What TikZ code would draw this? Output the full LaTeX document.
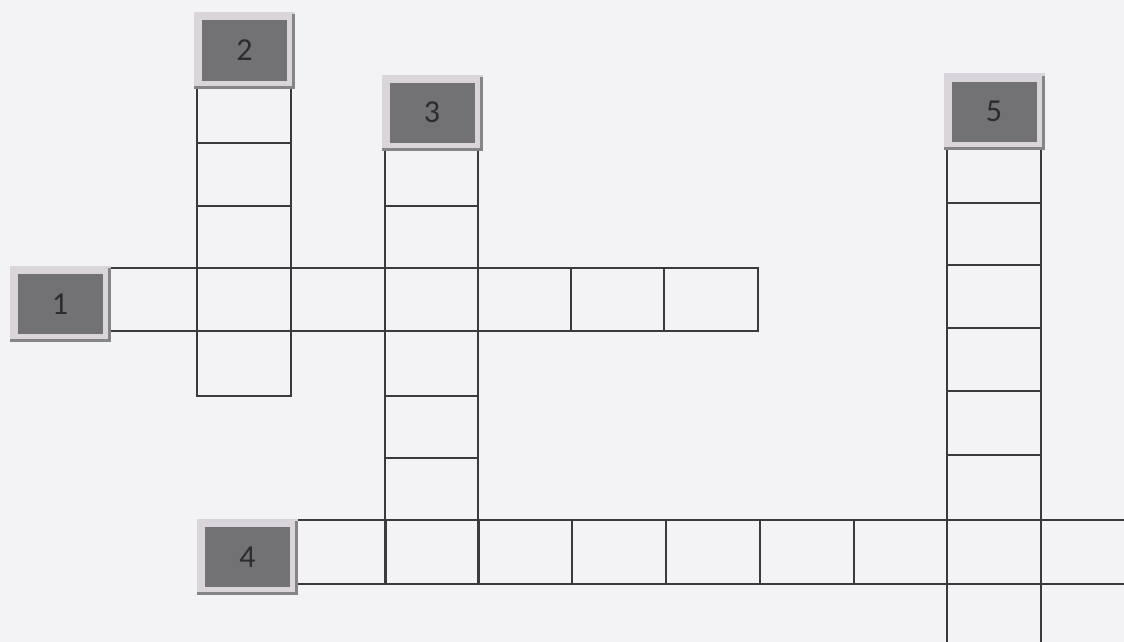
\documentclass[tikz,border=0pt]{standalone}
\usepackage{fontspec}
\setmainfont{Carlito}
\usetikzlibrary{calc}
\definecolor{bg}{HTML}{F3F2F5}
\definecolor{gridc}{HTML}{3A3A3C}
\definecolor{frame}{HTML}{DAD5DA}
\definecolor{darkfill}{HTML}{727173}
\definecolor{shadowc}{HTML}{858486}
\definecolor{numc}{HTML}{2C2C2E}
\tikzset{
  gridline/.style={draw=gridc, line width=1.8pt, line cap=rect},
  labelbox/.style={rectangle, fill=darkfill, draw=frame, line width=8pt,
    minimum width=93pt, minimum height=68pt, inner sep=0pt, outer sep=0pt,
    text=numc, font=\fontsize{32}{32}\selectfont},
  shadowline/.style={draw=shadowc, line width=3pt}
}
\begin{document}
\begin{tikzpicture}[x=1pt,y=-1pt]
\fill[bg] (0,0) rectangle (1124,642);
\useasboundingbox (0,0) rectangle (1124,642);
\begin{scope}
\clip (0,0) rectangle (1124,642);
% column 2
\draw[gridline] (197,85) rectangle (291,396);
\foreach \y in {143,206,268,331} \draw[gridline] (197,\y) -- (291,\y);
% row 1
\draw[gridline] (108,268) rectangle (758,331);
\foreach \x in {197,291,385,478,571,664} \draw[gridline] (\x,268) -- (\x,331);
% column 3
\draw[gridline] (385,148) rectangle (478,584);
\foreach \y in {206,268,331,396,458,520} \draw[gridline] (385,\y) -- (478,\y);
% row 4
\draw[gridline] (297,520) -- (1135,520);
\draw[gridline] (297,584) -- (1135,584);
\foreach \x in {297,386,479,572,666,760,854} \draw[gridline] (\x,520) -- (\x,584);
% column 5
\draw[gridline] (947,145) -- (947,660);
\draw[gridline] (1041,145) -- (1041,660);
\foreach \y in {145,203,265,328,391,455} \draw[gridline] (947,\y) -- (1041,\y);
\end{scope}
% labels
\node[labelbox] (L1) at (60,304) {1};
\node[labelbox] (L2) at (244.5,50.5) {2};
\node[labelbox] (L3) at (432,112.5) {3};
\node[labelbox] (L4) at (247.5,557) {4};
\node[labelbox] (L5) at (994,111.5) {5};
\foreach \n in {L1,L2,L3,L4,L5}{
  \draw[shadowline] ($(\n.north east)+(2.5,-2)$) -- ($(\n.south east)+(2.5,2.5)$)
    -- ($(\n.south west)+(-4,2.5)$);
}
\end{tikzpicture}
\end{document}
